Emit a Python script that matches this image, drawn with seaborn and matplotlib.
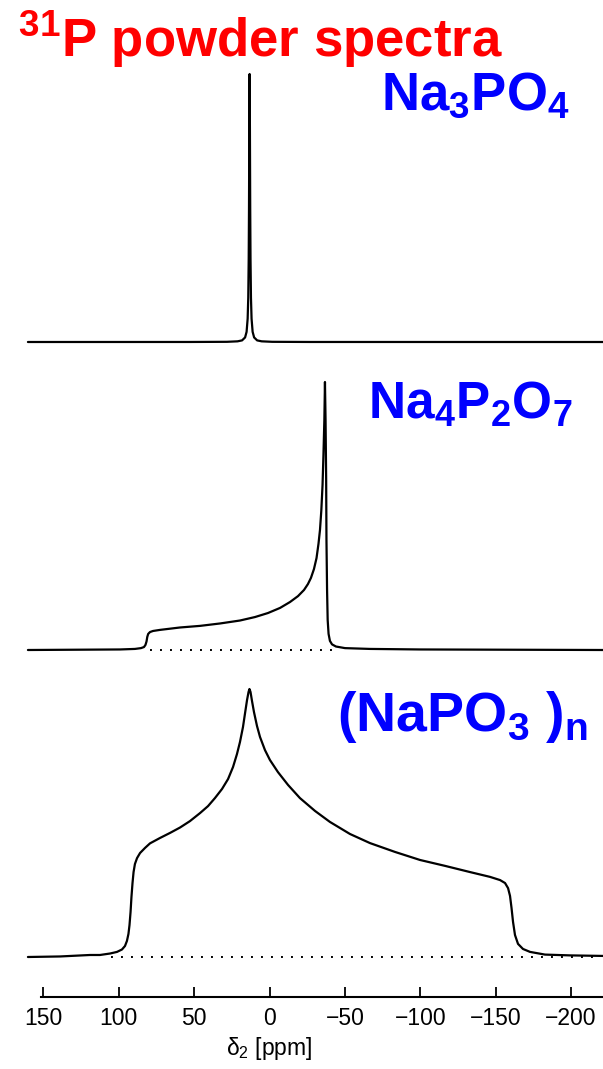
import matplotlib
matplotlib.use("Agg")
import matplotlib.pyplot as plt
import seaborn as sns
import pandas as pd

# ---- spectra, traced as (chemical shift in ppm, normalised intensity) ----
na3po4_ppm = [160.3, 53.2, 28.2, 21.2, 18.2, 16.2, 15.2, 14.5, 14.1, 13.8, 13.6, 13.4, 13.2,
              13.0, 12.8, 12.6, 12.3, 11.9, 11.2, 10.2, 8.2, 5.2, -1.8, -26.8, -221.3]
na3po4_int = [0.0, 0.0001, 0.0007, 0.0025, 0.006, 0.017, 0.038, 0.087, 0.165, 0.31, 0.5, 0.8, 1.0,
              0.8, 0.5, 0.31, 0.165, 0.087, 0.038, 0.017, 0.006, 0.0025, 0.0007, 0.0001, 0.0]

na4p2o7_ppm = [160.3, 99.2, 89.3, 85.3, 83.3, 82.3, 81.6, 81.1, 80.5, 79.3, 77.3, 72.7,
               59.4, 46.1, 32.8, 19.6, 9.6, 1.0, -7.0, -13.6, -18.9, -22.9, -25.5, -27.5,
               -29.5, -31.2, -32.5, -33.5, -34.4, -35.2, -35.8, -36.4, -36.8, -37.2, -37.6,
               -37.8, -38.2, -38.6, -39.2, -40.1, -41.5, -44.1, -50.1, -66.7, -99.9, -221.3]
na4p2o7_int = [0.0, 0.002, 0.004, 0.007, 0.011, 0.019, 0.032, 0.049, 0.060, 0.067, 0.071, 0.075,
               0.084, 0.090, 0.099, 0.110, 0.123, 0.138, 0.157, 0.179, 0.201, 0.224, 0.246, 0.269,
               0.302, 0.343, 0.396, 0.448, 0.522, 0.616, 0.728, 0.858, 1.0, 0.858, 0.634,
               0.410, 0.224, 0.112, 0.060, 0.034, 0.021, 0.013, 0.007, 0.004, 0.002, 0.0]

napo3_ppm = [160.3, 139.0, 119.1, 112.5, 105.8, 101.2, 97.9, 95.9, 94.6, 93.6, 92.9, 92.2,
             91.6, 90.9, 90.2, 89.3, 87.9, 85.9, 82.6, 79.3, 72.7, 66.0, 59.4, 52.8, 46.1,
             40.8, 36.2, 31.5, 27.5, 24.2, 21.6, 19.6, 17.6, 16.3, 14.9, 13.9, 13.3, 12.6,
             11.6, 10.3, 8.3, 6.3, 3.0, -0.3, -5.6, -12.3, -20.2, -30.2, -40.1, -53.4,
             -66.7, -83.3, -99.9, -116.5, -133.0, -146.3, -153.0, -156.3, -158.3, -159.6,
             -160.6, -161.6, -162.9, -164.9, -168.2, -172.9, -182.8, -199.4, -221.3]
napo3_int = [0.0, 0.002, 0.0075, 0.0075, 0.013, 0.019, 0.028, 0.041, 0.060, 0.086, 0.119, 0.168,
             0.224, 0.276, 0.317, 0.347, 0.369, 0.388, 0.407, 0.424, 0.444, 0.463, 0.483, 0.507, 0.537,
             0.563, 0.593, 0.627, 0.664, 0.709, 0.757, 0.802, 0.858, 0.907, 0.959, 0.989, 1.0, 0.989,
             0.955, 0.914, 0.862, 0.821, 0.772, 0.735, 0.690, 0.642, 0.593, 0.545, 0.504, 0.459,
             0.425, 0.392, 0.362, 0.340, 0.317, 0.299, 0.287, 0.276, 0.257, 0.228,
             0.183, 0.131, 0.082, 0.049, 0.030, 0.019, 0.009, 0.006, 0.004]

# zero-intensity reference lines (ppm range)
na4p2o7_ref = [79.0, -43.0]
napo3_ref = [105.0, -215.0]

tick_values = [150, 100, 50, 0, -50, -100, -150, -200]
spectrum_names = ["Na$_\\mathregular{3}$PO$_\\mathregular{4}$",
                  "Na$_\\mathregular{4}$P$_\\mathregular{2}$O$_\\mathregular{7}$",
                  "(NaPO$_\\mathregular{3}$ )$_\\mathregular{n}$"]
title_text = "$^\\mathregular{31}$P powder spectra"
xlabel_text = "\u03b4$_\\mathregular{2}$ [ppm]"

# ---- styling ----
sns.set_style("white")
plt.rcParams["font.family"] = ["Liberation Sans", "DejaVu Sans"]
plt.rcParams["mathtext.fontset"] = "custom"
plt.rcParams["mathtext.rm"] = "Liberation Sans"
plt.rcParams["lines.scale_dashes"] = False

W, H = 603, 1069
fig = plt.figure(figsize=(W / 100, H / 100), dpi=100)
fig.patch.set_facecolor("white")

spine_px = 997          # pixel row of the shift axis
peak_px = 268           # pixel height of a unit intensity
base3_px = 957          # baseline of the lowest trace
ax = fig.add_axes([0, (H - spine_px) / H, 1, spine_px / H])
ax.set_facecolor("white")

offsets = [(base3_px - 342) / peak_px, (base3_px - 650) / peak_px, 0.0]
traces = [(na3po4_ppm, na3po4_int), (na4p2o7_ppm, na4p2o7_int), (napo3_ppm, napo3_int)]

for (ppm, inten), off in zip(traces, offsets):
    df = pd.DataFrame({"ppm": ppm, "I": [v + off for v in inten]})
    sns.lineplot(data=df, x="ppm", y="I", ax=ax, color="black", linewidth=1.6,
                 estimator=None, sort=False)

for rng, off in ((na4p2o7_ref, offsets[1]), (napo3_ref, offsets[2])):
    ax.plot(rng, [off, off], color="black", linewidth=1.4, linestyle=(0, (1.4, 5.8)))

ax.set_xlim(269.5 / 1.507, (269.5 - W) / 1.507)
ax.set_ylim(-(spine_px - base3_px) / peak_px, base3_px / peak_px)

for s in ("left", "right", "top"):
    ax.spines[s].set_visible(False)
ax.spines["bottom"].set_linewidth(1.5)
ax.spines["bottom"].set_color("black")
ax.spines["bottom"].set_bounds(151.3, (269.5 - W) / 1.507)

ax.set_xticks(tick_values)
ax.set_xticklabels([f"{v}".replace("-", "\u2212") for v in tick_values])
ax.set_yticks([])
ax.set_ylabel("")
ax.tick_params(axis="x", direction="in", length=7.2, width=1.3, labelsize=16.5,
               pad=7, color="black", labelcolor="black", bottom=True)
ax.set_xlabel(xlabel_text, fontsize=16.5, color="black", va="top")
ax.xaxis.set_label_coords(269.5 / W, -(1035 - spine_px) / spine_px)

# ---- annotations ----
fig.text(18 / W, 1 - 57 / H, title_text, color="#ff0000", fontsize=38,
         fontweight="bold", ha="left", va="baseline")
label_pos = [(570, 110, 38), (573, 419, 37), (588, 731, 40)]
for name, (px, py, fs) in zip(spectrum_names, label_pos):
    fig.text(px / W, 1 - py / H, name, color="#0000ff", fontsize=fs,
             fontweight="bold", ha="right", va="baseline")

fig.savefig("out.png", dpi=100, facecolor="white")
